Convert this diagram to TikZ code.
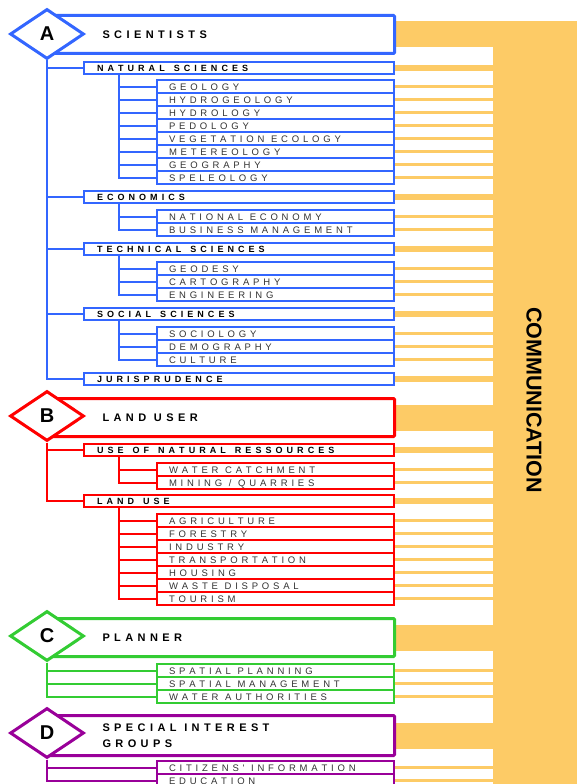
\documentclass[tikz,border=0pt]{standalone}
\usepackage{fontspec}
\setmainfont{Liberation Sans}
\makeatletter
\def\lsgap{0.4em}
\def\lsword{0.3em}
\def\ls#1{\ls@#1\relax}
\def\ls@#1{\ifx#1\relax\else\ifx#1~\hspace{\lsword}\else#1\kern\lsgap\fi\expandafter\ls@\fi}
\makeatother
\usetikzlibrary{shapes.geometric,backgrounds}
\definecolor{sciblue}{HTML}{3366FF}
\definecolor{userred}{HTML}{FF0000}
\definecolor{plangreen}{HTML}{33CC33}
\definecolor{grppurple}{HTML}{990099}
\definecolor{commorange}{HTML}{FDCB66}
\definecolor{subgrey}{HTML}{333333}
\tikzset{
	hdrbox/.style={draw, line width=3pt, rounded corners=1pt, fill=white, anchor=north west, minimum width=346pt, minimum height=38pt, text width=238pt, inner xsep=54pt, inner ysep=0pt, align=left, text=black, font=\bfseries\fontsize{11}{16}\selectfont\def\lsgap{0.40em}},
	catbox/.style={draw, line width=2pt, fill=white, anchor=north west, minimum width=310pt, minimum height=12pt, text width=284pt, inner xsep=13pt, inner ysep=0pt, align=left, text height=6.5pt, text depth=0pt, text=black, font=\bfseries\fontsize{9}{9}\selectfont\def\lsgap{0.45em}\def\lsword{0.55em}},
	subbox/.style={draw, line width=2pt, fill=white, anchor=north west, minimum width=237pt, minimum height=13pt, text width=213pt, inner xsep=12pt, inner ysep=0pt, align=left, text height=7pt, text depth=0pt, text=subgrey, font=\fontsize{9.5}{9.5}\selectfont\def\lsgap{0.40em}},
	letterdia/.style={diamond, draw, line width=3pt, fill=white, minimum width=74pt, minimum height=50pt, inner sep=0pt, text=black, font=\bfseries\fontsize{20}{20}\selectfont},
	branch/.style={line width=2pt},
	bandhdr/.style={draw=commorange, line width=26pt},
	bandcat/.style={draw=commorange, line width=6pt},
	bandsub/.style={draw=commorange, line width=3pt}
}
\begin{document}
\begin{tikzpicture}[x=1pt, y=-1pt]
			%%%%% START %%%%%
			\useasboundingbox (0, 0) rectangle (577, 784);
			
			\node[fill=commorange, anchor=north west, minimum width=84pt, minimum height=765pt, inner sep=0pt] (comm) at (493, 21) {};
			\node[rotate=-90, font=\bfseries\fontsize{21.5}{21.5}\selectfont] (commtext) at (534, 400) {COMMUNICATION};
			
			%% A : scientists
			\node[hdrbox, draw=sciblue] (hA) at (47, 14) {\ls{SCIENTISTS}};
			\node[letterdia, draw=sciblue] (dA) at (47, 34) {A};
			
			\node[catbox, draw=sciblue] (nat) at (83, 61) {\ls{NATURAL~SCIENCES}};
			\node[subbox, draw=sciblue] (geol) at (156, 79) {\ls{GEOLOGY}};
			\node[subbox, draw=sciblue] (hydg) at (156, 92) {\ls{HYDROGEOLOGY}};
			\node[subbox, draw=sciblue] (hydr) at (156, 105) {\ls{HYDROLOGY}};
			\node[subbox, draw=sciblue] (pedo) at (156, 118) {\ls{PEDOLOGY}};
			\node[subbox, draw=sciblue] (vege) at (156, 131) {\ls{VEGETATION~ECOLOGY}};
			\node[subbox, draw=sciblue] (mete) at (156, 144) {\ls{METEREOLOGY}};
			\node[subbox, draw=sciblue] (geog) at (156, 157) {\ls{GEOGRAPHY}};
			\node[subbox, draw=sciblue] (spel) at (156, 170) {\ls{SPELEOLOGY}};
			
			\node[catbox, draw=sciblue] (eco) at (83, 190) {\ls{ECONOMICS}};
			\node[subbox, draw=sciblue] (naec) at (156, 209) {\ls{NATIONAL~ECONOMY}};
			\node[subbox, draw=sciblue] (busi) at (156, 222) {\ls{BUSINESS~MANAGEMENT}};
			
			\node[catbox, draw=sciblue] (tec) at (83, 242) {\ls{TECHNICAL~SCIENCES}};
			\node[subbox, draw=sciblue] (geod) at (156, 261) {\ls{GEODESY}};
			\node[subbox, draw=sciblue] (cart) at (156, 274) {\ls{CARTOGRAPHY}};
			\node[subbox, draw=sciblue] (engi) at (156, 287) {\ls{ENGINEERING}};
			
			\node[catbox, draw=sciblue] (soc) at (83, 307) {\ls{SOCIAL~SCIENCES}};
			\node[subbox, draw=sciblue] (soci) at (156, 326) {\ls{SOCIOLOGY}};
			\node[subbox, draw=sciblue] (demo) at (156, 339) {\ls{DEMOGRAPHY}};
			\node[subbox, draw=sciblue] (cult) at (156, 352) {\ls{CULTURE}};
			
			\node[catbox, draw=sciblue] (jur) at (83, 372) {\ls{JURISPRUDENCE}};
			
			\draw[branch, sciblue] (dA.south) |- (nat.west);
			\draw[branch, sciblue] (dA.south) |- (eco.west);
			\draw[branch, sciblue] (dA.south) |- (tec.west);
			\draw[branch, sciblue] (dA.south) |- (soc.west);
			\draw[branch, sciblue] (dA.south) |- (jur.west);
			\draw[branch, sciblue] (nat.south west) ++(36, 0) |- (geol.west);
			\draw[branch, sciblue] (nat.south west) ++(36, 0) |- (hydg.west);
			\draw[branch, sciblue] (nat.south west) ++(36, 0) |- (hydr.west);
			\draw[branch, sciblue] (nat.south west) ++(36, 0) |- (pedo.west);
			\draw[branch, sciblue] (nat.south west) ++(36, 0) |- (vege.west);
			\draw[branch, sciblue] (nat.south west) ++(36, 0) |- (mete.west);
			\draw[branch, sciblue] (nat.south west) ++(36, 0) |- (geog.west);
			\draw[branch, sciblue] (nat.south west) ++(36, 0) |- (spel.west);
			\draw[branch, sciblue] (eco.south west) ++(36, 0) |- (naec.west);
			\draw[branch, sciblue] (eco.south west) ++(36, 0) |- (busi.west);
			\draw[branch, sciblue] (tec.south west) ++(36, 0) |- (geod.west);
			\draw[branch, sciblue] (tec.south west) ++(36, 0) |- (cart.west);
			\draw[branch, sciblue] (tec.south west) ++(36, 0) |- (engi.west);
			\draw[branch, sciblue] (soc.south west) ++(36, 0) |- (soci.west);
			\draw[branch, sciblue] (soc.south west) ++(36, 0) |- (demo.west);
			\draw[branch, sciblue] (soc.south west) ++(36, 0) |- (cult.west);
			
			%% B : land user
			\node[hdrbox, draw=userred] (hB) at (47, 397) {\ls{LAND~USER}};
			\node[letterdia, draw=userred] (dB) at (47, 416) {B};
			
			\node[catbox, draw=userred] (unr) at (83, 443) {\ls{USE~OF~NATURAL~RESSOURCES}};
			\node[subbox, draw=userred] (watc) at (156, 462) {\ls{WATER~CATCHMENT}};
			\node[subbox, draw=userred] (mini) at (156, 475) {\ls{MINING~/~QUARRIES}};
			
			\node[catbox, draw=userred] (lus) at (83, 494) {\ls{LAND~USE}};
			\node[subbox, draw=userred] (agri) at (156, 513) {\ls{AGRICULTURE}};
			\node[subbox, draw=userred] (fore) at (156, 526) {\ls{FORESTRY}};
			\node[subbox, draw=userred] (indu) at (156, 539) {\ls{INDUSTRY}};
			\node[subbox, draw=userred] (tran) at (156, 552) {\ls{TRANSPORTATION}};
			\node[subbox, draw=userred] (hous) at (156, 565) {\ls{HOUSING}};
			\node[subbox, draw=userred] (wast) at (156, 578) {\ls{WASTE~DISPOSAL}};
			\node[subbox, draw=userred] (tour) at (156, 591) {\ls{TOURISM}};
			
			\draw[branch, userred] (dB.south) |- (unr.west);
			\draw[branch, userred] (dB.south) |- (lus.west);
			\draw[branch, userred] (unr.south west) ++(36, 0) |- (watc.west);
			\draw[branch, userred] (unr.south west) ++(36, 0) |- (mini.west);
			\draw[branch, userred] (lus.south west) ++(36, 0) |- (agri.west);
			\draw[branch, userred] (lus.south west) ++(36, 0) |- (fore.west);
			\draw[branch, userred] (lus.south west) ++(36, 0) |- (indu.west);
			\draw[branch, userred] (lus.south west) ++(36, 0) |- (tran.west);
			\draw[branch, userred] (lus.south west) ++(36, 0) |- (hous.west);
			\draw[branch, userred] (lus.south west) ++(36, 0) |- (wast.west);
			\draw[branch, userred] (lus.south west) ++(36, 0) |- (tour.west);
			
			%% C : planner
			\node[hdrbox, draw=plangreen] (hC) at (47, 617) {\ls{PLANNER}};
			\node[letterdia, draw=plangreen] (dC) at (47, 636) {C};
			
			\node[subbox, draw=plangreen] (spla) at (156, 663) {\ls{SPATIAL~PLANNING}};
			\node[subbox, draw=plangreen] (sman) at (156, 676) {\ls{SPATIAL~MANAGEMENT}};
			\node[subbox, draw=plangreen] (wata) at (156, 689) {\ls{WATER~AUTHORITIES}};
			
			\draw[branch, plangreen] (dC.south) |- (spla.west);
			\draw[branch, plangreen] (dC.south) |- (sman.west);
			\draw[branch, plangreen] (dC.south) |- (wata.west);
			
			%% D : special interest groups
			\node[hdrbox, draw=grppurple, minimum height=40pt] (hD) at (47, 714) {\ls{SPECIAL~INTEREST}\\\ls{GROUPS}};
			\node[letterdia, draw=grppurple] (dD) at (47, 733) {D};
			
			\node[subbox, draw=grppurple] (citi) at (156, 760) {\ls{CITIZENS\textquotesingle~INFORMATION}};
			\node[subbox, draw=grppurple] (educ) at (156, 773) {\ls{EDUCATION}};
			
			\draw[branch, grppurple] (dD.south) |- (citi.west);
			\draw[branch, grppurple] (dD.south) |- (educ.west);
			
			%% bands to the communication bar
			\begin{scope}[on background layer]
			\draw[bandhdr] (hA.east) -- (hA.east -| comm.west);
			\draw[bandhdr] (hB.east) -- (hB.east -| comm.west);
			\draw[bandhdr] (hC.east) -- (hC.east -| comm.west);
			\draw[bandhdr] (hD.east) -- (hD.east -| comm.west);
			
			\draw[bandcat] (nat.east) -- (nat.east -| comm.west);
			\draw[bandcat] (eco.east) -- (eco.east -| comm.west);
			\draw[bandcat] (tec.east) -- (tec.east -| comm.west);
			\draw[bandcat] (soc.east) -- (soc.east -| comm.west);
			\draw[bandcat] (jur.east) -- (jur.east -| comm.west);
			\draw[bandcat] (unr.east) -- (unr.east -| comm.west);
			\draw[bandcat] (lus.east) -- (lus.east -| comm.west);
			
			\draw[bandsub] (geol.east) -- (geol.east -| comm.west);
			\draw[bandsub] (hydg.east) -- (hydg.east -| comm.west);
			\draw[bandsub] (hydr.east) -- (hydr.east -| comm.west);
			\draw[bandsub] (pedo.east) -- (pedo.east -| comm.west);
			\draw[bandsub] (vege.east) -- (vege.east -| comm.west);
			\draw[bandsub] (mete.east) -- (mete.east -| comm.west);
			\draw[bandsub] (geog.east) -- (geog.east -| comm.west);
			\draw[bandsub] (spel.east) -- (spel.east -| comm.west);
			\draw[bandsub] (naec.east) -- (naec.east -| comm.west);
			\draw[bandsub] (busi.east) -- (busi.east -| comm.west);
			\draw[bandsub] (geod.east) -- (geod.east -| comm.west);
			\draw[bandsub] (cart.east) -- (cart.east -| comm.west);
			\draw[bandsub] (engi.east) -- (engi.east -| comm.west);
			\draw[bandsub] (soci.east) -- (soci.east -| comm.west);
			\draw[bandsub] (demo.east) -- (demo.east -| comm.west);
			\draw[bandsub] (cult.east) -- (cult.east -| comm.west);
			\draw[bandsub] (watc.east) -- (watc.east -| comm.west);
			\draw[bandsub] (mini.east) -- (mini.east -| comm.west);
			\draw[bandsub] (agri.east) -- (agri.east -| comm.west);
			\draw[bandsub] (fore.east) -- (fore.east -| comm.west);
			\draw[bandsub] (indu.east) -- (indu.east -| comm.west);
			\draw[bandsub] (tran.east) -- (tran.east -| comm.west);
			\draw[bandsub] (hous.east) -- (hous.east -| comm.west);
			\draw[bandsub] (wast.east) -- (wast.east -| comm.west);
			\draw[bandsub] (tour.east) -- (tour.east -| comm.west);
			\draw[bandsub] (spla.east) -- (spla.east -| comm.west);
			\draw[bandsub] (sman.east) -- (sman.east -| comm.west);
			\draw[bandsub] (wata.east) -- (wata.east -| comm.west);
			\draw[bandsub] (citi.east) -- (citi.east -| comm.west);
			\draw[bandsub] (educ.east) -- (educ.east -| comm.west);
			\end{scope}
			
			%%%%% END %%%%%
\end{tikzpicture}
\end{document}
